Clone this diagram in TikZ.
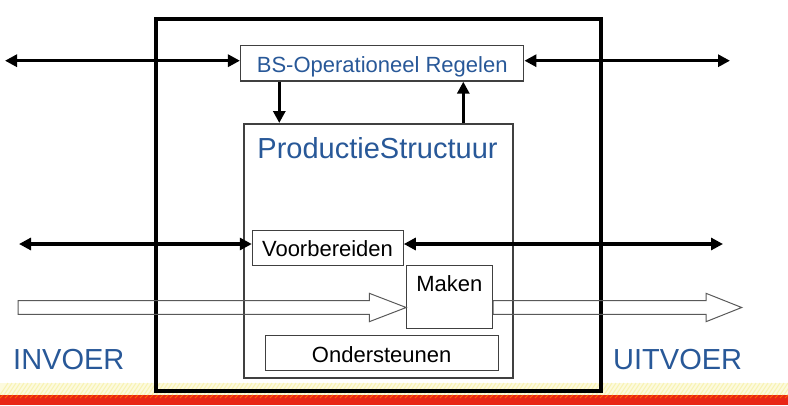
\documentclass[tikz,border=0pt]{standalone}
\usepackage{fontspec}
\setmainfont{Liberation Sans}
\usetikzlibrary{arrows.meta}
\definecolor{tblue}{RGB}{40,88,152}
\definecolor{stripered}{RGB}{232,38,22}
\definecolor{stripeyel}{RGB}{246,240,160}
\tikzset{
  box/.style={draw=black!75, line width=1pt, inner sep=0pt, fill=none},
  bigframe/.style={draw=black, line width=4pt},
  dbl/.style={line width=3.3pt, {Triangle[length=12pt,width=12pt]}-{Triangle[length=12pt,width=12pt]}},
  sgl/.style={line width=3.3pt, -{Triangle[length=12pt,width=12pt]}},
  hollow/.style={draw=black!65, line width=1pt},
  midtxt/.style={font=\fontsize{22}{24}\selectfont, inner sep=0pt},
  bigtxt/.style={font=\fontsize{29}{32}\selectfont, inner sep=0pt, text=tblue},
}
\begin{document}
\begin{tikzpicture}[x=1pt,y=-1pt]
\useasboundingbox (0,0) rectangle (788,405);
% bottom stripe
\fill[stripeyel!35] (0,383) rectangle (788,395);
\foreach \i in {0,4,...,800}{
  \draw[stripeyel!80, line width=1pt] (\i,395) -- (\i+8,383);
}
\fill[stripered] (0,395) rectangle (788,405);
\foreach \i in {0,5,...,800}{
  \draw[orange!80!red, line width=0.8pt] (\i,398) -- (\i+3,395);
}
% big frame
\draw[bigframe] (156,19) rectangle (600.7,391);
% boxes
\node[box, line width=1.5pt, minimum width=283pt, minimum height=35.3pt] (bs) at (382.2,63.3) {};
\node[midtxt, text=tblue, anchor=base] (bstxt) at (382.2,72.3) {BS-Operationeel Regelen};
\node[box, line width=2pt, minimum width=268.7pt, minimum height=254pt] (ps) at (378.3,251) {};
\node[bigtxt, anchor=base] (pstxt) at (377.5,158) {ProductieStructuur};
\node[box, minimum width=151pt, minimum height=35pt] (vb) at (327.8,247.5) {};
\node[midtxt, anchor=base] (vbtxt) at (327.5,256.7) {Voorbereiden};
\node[box, minimum width=86pt, minimum height=63.3pt] (mk) at (449.7,296.7) {};
\node[midtxt, anchor=base] (mktxt) at (449.3,291.7) {Maken};
\node[box, minimum width=232.6pt, minimum height=35.3pt] (os) at (382,353.3) {};
\node[midtxt, anchor=base] (ostxt) at (381.7,362.7) {Ondersteunen};
% labels
\node[bigtxt, anchor=base west] (invoer) at (13,369) {INVOER};
\node[bigtxt, anchor=base west] (uitvoer) at (613,369) {UITVOER};
% double arrows
\coordinate (l1) at (5,60.7);
\coordinate (r1) at (730,60.7);
\draw[dbl] (l1) -- (l1 -| bs.west);
\draw[dbl] (r1 -| bs.east) -- (r1);
\coordinate (l2) at (19,244);
\coordinate (r2) at (723,244);
\draw[dbl] (l2) -- (l2 -| vb.west);
\draw[dbl] (r2 -| vb.east) -- (r2);
% vertical arrows
\coordinate (d1) at (279.3,0);
\coordinate (u1) at (463.3,0);
\draw[sgl] (d1 |- bs.south) -- (d1 |- ps.north);
\draw[sgl] (u1 |- ps.north) -- (u1 |- bs.south);
% hollow arrows
\draw[hollow] (18,300.7) -- (369.3,300.7) -- (369.3,293.3) -- (mk.west |- 0,307.5) -- (369.3,321.7) -- (369.3,314.3) -- (18,314.3) -- cycle;
\draw[hollow] (mk.east |- 0,300.7) -- (706,300.7) -- (706,293.3) -- (741.7,307.5) -- (706,321.7) -- (706,314.3) -- (mk.east |- 0,314.3) -- cycle;
\end{tikzpicture}
\end{document}
